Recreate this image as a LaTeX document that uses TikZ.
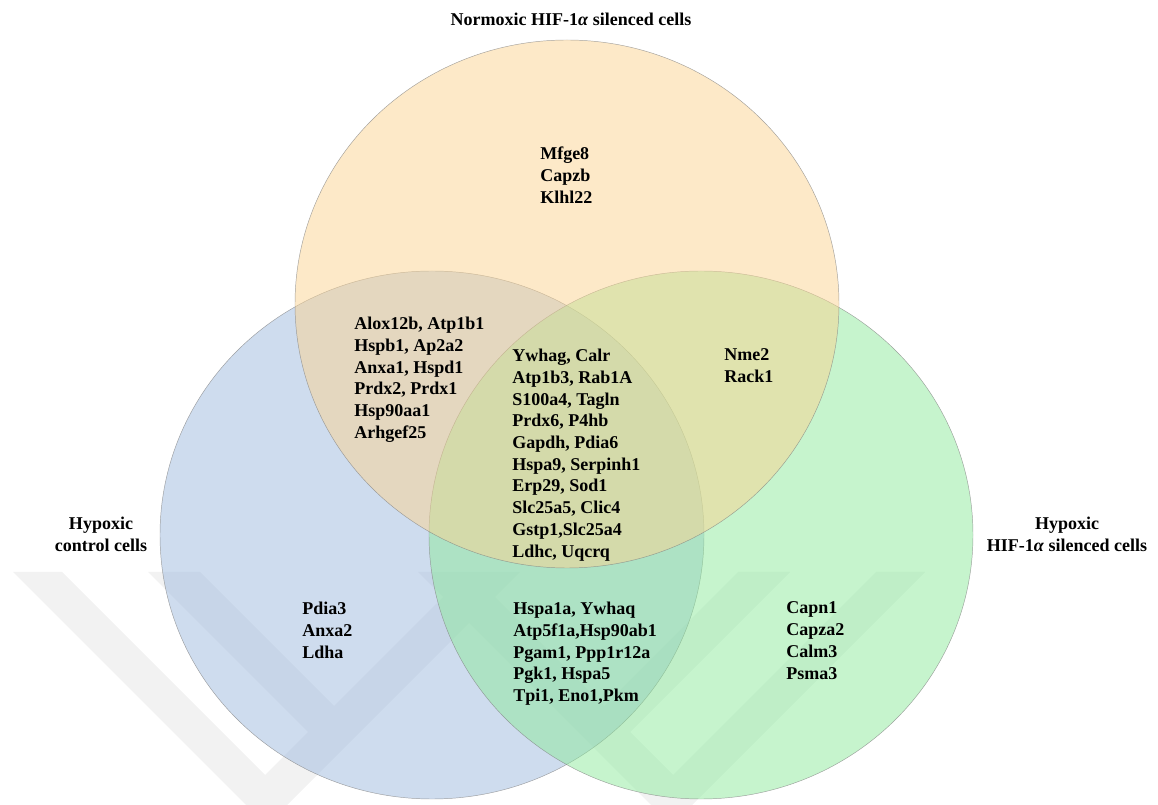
\documentclass[tikz,border=0pt]{standalone}
\usepackage{fontspec}
\setmainfont{Liberation Serif}

\definecolor{hypfill}{RGB}{157,185,221}
\definecolor{silfill}{RGB}{141,233,155}
\definecolor{normfill}{RGB}{251,211,145}

\tikzset{
    venn/.style={draw=black!50, line width=0.35pt, draw opacity=0.7, fill opacity=0.5},
    genes/.style={anchor=north west, align=left, inner sep=0pt, font=\fontsize{13.5}{16.3}\selectfont\bfseries},
    setlabel/.style={anchor=north, align=center, inner sep=0pt, font=\fontsize{13.5}{16.3}\selectfont\bfseries}
}

\begin{document}
\begin{tikzpicture}[x=0.75pt,y=-0.75pt]
            \useasboundingbox (0,0) rectangle (1158,805);

            % watermark
            \begin{scope}
                \clip (0,572) rectangle (1158,805);
                \fill[black, opacity=0.05]
                    (13,572) -- (266.5,825.5) -- (520,572) -- (468,572) -- (265,775) -- (62,572) -- cycle
                    (876,572) -- (673,775) -- (470,572) -- (418,572) -- (671.5,825.5) -- (925,572) -- cycle
                    (148,572) -- (308,732) -- (334,706) -- (200,572) -- cycle
                    (790,572) -- (738,572) -- (604,706) -- (630,732) -- cycle;
            \end{scope}

            \coordinate (H) at (432,535);
            \coordinate (S) at (701,535);
            \coordinate (N) at (567,304);

            \filldraw[venn, fill=hypfill] (H) ellipse (272 and 264);
            \filldraw[venn, fill=silfill] (S) ellipse (272 and 264);
            \filldraw[venn, fill=normfill] (N) ellipse (272 and 264);

            \node[setlabel] (normlabel) at (571,12.8) {Normoxic HIF-1\textit{α} silenced cells};
            \node[setlabel] (hyplabel) at (101,516.8) {Hypoxic\\control cells};
            \node[setlabel] (sillabel) at (1067,516.8) {Hypoxic\\HIF-1\textit{α} silenced cells};

            \node[genes] (normonly) at (540,146.8) {Mfge8\\Capzb\\Klhl22};
            \node[genes] (normhyp) at (354,316.8) {Alox12b, Atp1b1\\Hspb1, Ap2a2\\Anxa1, Hspd1\\Prdx2, Prdx1\\Hsp90aa1\\Arhgef25};
            \node[genes] (all) at (512,348.8) {Ywhag, Calr\\Atp1b3, Rab1A\\S100a4, Tagln\\Prdx6, P4hb\\Gapdh, Pdia6\\Hspa9, Serpinh1\\Erp29, Sod1\\Slc25a5, Clic4\\Gstp1,Slc25a4\\Ldhc, Uqcrq};
            \node[genes] (normsil) at (724,348.8) {Nme2\\Rack1};
            \node[genes] (hyponly) at (302,601.8) {Pdia3\\Anxa2\\Ldha};
            \node[genes] (hypsil) at (513,601.8) {Hspa1a, Ywhaq\\Atp5f1a,Hsp90ab1\\Pgam1, Ppp1r12a\\Pgk1, Hspa5\\Tpi1, Eno1,Pkm};
            \node[genes] (silonly) at (786,601.8) {Capn1\\Capza2\\Calm3\\Psma3};

\end{tikzpicture}
\end{document}
